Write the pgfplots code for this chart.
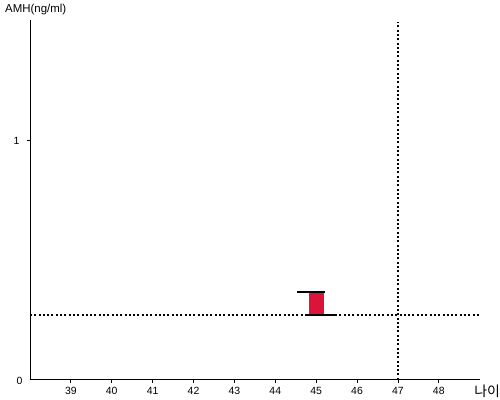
\documentclass[border=0pt]{standalone}
\usepackage{fontspec}
\setmainfont{Liberation Sans}
\newfontfamily\cjk{Noto Sans CJK KR}
\usepackage{pgfplots}
\pgfplotsset{compat=1.18}
\definecolor{barred}{RGB}{220,20,60}
\begin{document}
\begin{tikzpicture}
\path (0,0) rectangle (500bp,400bp);
\begin{axis}[
  at={(30bp,20bp)}, anchor=south west,
  scale only axis, width=450bp, height=360bp,
  xmin=38, xmax=49, ymin=0, ymax=1.506,
  axis x line=bottom, axis y line=left,
  axis line style={-, line width=0.8bp, black},
  xtick={39,...,48}, ytick={1},
  extra y ticks={0}, extra y tick style={major tick length=0pt, yticklabel style={yshift=-1.5bp}},
  tick style={black, line width=0.8bp},
  major tick length=3bp, tick align=outside,
  ticklabel style={font=\fontsize{10.5}{12}\selectfont},
  /pgf/number format/assume math mode=true,
  xticklabel style={yshift=-1bp},
  yticklabel style={xshift=-4bp},
  clip=false,
]
\addplot[black, line width=2bp, dash pattern=on 2bp off 2.3bp] coordinates {(38,0.272) (49,0.272)};
\addplot[black, line width=2bp, dash pattern=on 2bp off 2.3bp] coordinates {(47,0) (47,1.498)};
\addplot[fill=barred, draw=none] coordinates {(44.815,0.272) (45.185,0.272) (45.185,0.368) (44.815,0.368)} -- cycle;
\addplot[black, line width=2bp] coordinates {(44.53,0.368) (45.22,0.368)};
\addplot[black, line width=2bp] coordinates {(44.78,0.272) (45.47,0.272)};
\end{axis}
\node[anchor=west, inner sep=0pt, font=\fontsize{11.5}{13}\selectfont] at (5bp,390bp) {AMH(ng/ml)};
\node[anchor=center, inner sep=0pt, font=\cjk\fontsize{14}{15}\selectfont] at (487.5bp,8bp) {나이};
\end{tikzpicture}
\end{document}
